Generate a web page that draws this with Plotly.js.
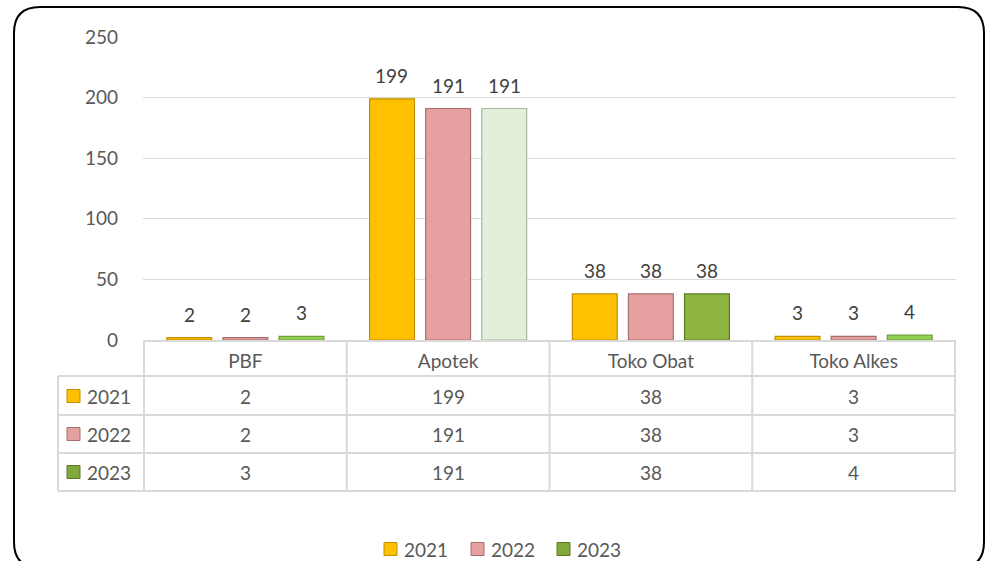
<!DOCTYPE html>
<html>
<head>
<meta charset="utf-8">
<script src="https://cdn.plot.ly/plotly-3.0.1.min.js"></script>
<style>
  html, body { margin: 0; padding: 0; background: #ffffff; }
  #chart { width: 986px; height: 561px; }
</style>
</head>
<body>
<div id="chart"></div>
<script>
// ---- data ----
const categories = ['PBF', 'Apotek', 'Toko Obat', 'Toko Alkes'];
const seriesNames = ['2021', '2022', '2023'];
const values2021 = [2, 199, 38, 3];
const values2022 = [2, 191, 38, 3];
const values2023 = [3, 191, 38, 4];
const yTickVals = [0, 50, 100, 150, 200, 250];

// ---- styles ----
const FONT = 'Lato, "Open Sans", sans-serif';
const TXT = '#595959';
const GRID = '#D9D9D9';
const fill2021 = '#FFC000', edge2021 = '#BF9000';
const fill2022 = '#E6A0A0', edge2022 = '#A86E6E';
const fill2023 = ['#92D050', '#E2EFDA', '#8DB53F', '#92D050'];
const edge2023 = ['#6E9E3A', '#A7B89C', '#5E7A28', '#6E9E3A'];
const keyFills = [fill2021, fill2022, '#80A83A'];
const keyEdges = [edge2021, edge2022, '#5E7A28'];

// plot-area pixel geometry (used only to convert pixel positions to paper units)
const L = 143, R = 956, T = 37, B = 340;
const W = 986, H = 561;
const px = x => (x - L) / (R - L);
const py = y => (B - y) / (B - T);
const BARGAP = 0.17, GROUPGAP = 0.2;

const allValues = [values2021, values2022, values2023];
const fills = [fill2021, fill2022, fill2023];
const edges = [edge2021, edge2022, edge2023];

const traces = seriesNames.map((name, i) => ({
  type: 'bar',
  name: name,
  x: categories,
  y: allValues[i],
  marker: { color: fills[i], line: { color: edges[i], width: 1.2 } },
  hoverinfo: 'x+y+name'
}));

const shapes = [];
const annotations = [];
const lineStyle = { color: GRID, width: 2 };

// data labels above bars (offset by the group slot width)
const slotPx = (R - L) / categories.length * (1 - BARGAP) / seriesNames.length;
seriesNames.forEach((name, i) => {
  allValues[i].forEach((v, j) => {
    annotations.push({ x: categories[j], xref: 'x', y: v, yref: 'y', text: String(v), showarrow: false,
      xanchor: 'center', yanchor: 'bottom', xshift: (i - 1) * slotPx, yshift: 10,
      font: { family: FONT, size: 19, color: '#404040' } });
  });
});

// table rows geometry (pixel)
const rowTops = [340, 376, 415, 453, 491];
const rowCenters = [358, 396, 434, 472];

// horizontal table lines
for (let k = 1; k < rowTops.length; k++) {
  shapes.push({ type: 'line', xref: 'paper', yref: 'paper', x0: px(58), x1: 1, y0: py(rowTops[k]), y1: py(rowTops[k]), line: lineStyle });
}
// vertical lines at category boundaries
for (let j = 0; j <= categories.length; j++) {
  shapes.push({ type: 'line', xref: 'x', yref: 'paper', x0: j - 0.5, x1: j - 0.5, y0: py(340), y1: py(491), line: lineStyle });
}
// left border of the key column
shapes.push({ type: 'line', xref: 'paper', yref: 'paper', x0: px(58), x1: px(58), y0: py(376), y1: py(491), line: lineStyle });

// table values and row headers
seriesNames.forEach((name, i) => {
  const yc = py(rowCenters[i + 1]);
  allValues[i].forEach((v, j) => {
    annotations.push({ x: categories[j], xref: 'x', y: yc, yref: 'paper', text: String(v), showarrow: false,
      xanchor: 'center', yanchor: 'middle', font: { family: FONT, size: 19, color: TXT } });
  });
  shapes.push({ type: 'rect', xref: 'paper', yref: 'paper', x0: px(67), x1: px(80), y0: py(rowCenters[i + 1] - 6.5), y1: py(rowCenters[i + 1] + 6.5),
    fillcolor: keyFills[i], line: { color: keyEdges[i], width: 1 } });
  annotations.push({ x: px(85), xref: 'paper', y: yc, yref: 'paper', text: name, showarrow: false,
    xanchor: 'left', yanchor: 'middle', font: { family: FONT, size: 19, color: TXT } });
});

// bottom legend
const legKeyX = [384, 471, 557];
const legY = 549;
seriesNames.forEach((name, i) => {
  shapes.push({ type: 'rect', xref: 'paper', yref: 'paper', x0: px(legKeyX[i]), x1: px(legKeyX[i] + 13), y0: py(legY - 6.5), y1: py(legY + 6.5),
    fillcolor: keyFills[i], line: { color: keyEdges[i], width: 1 } });
  annotations.push({ x: px(legKeyX[i] + 19), xref: 'paper', y: py(legY), yref: 'paper', text: name, showarrow: false,
    xanchor: 'left', yanchor: 'middle', borderpad: 0, font: { family: FONT, size: 19, color: TXT } });
});

// rounded outer frame
(function () {
  const x0 = 14, y0 = 7, x1 = 984, y1 = 568, r = 26;
  const P = (x, y) => px(x) + ',' + py(y);
  const path = 'M ' + P(x0 + r, y0) + ' L ' + P(x1 - r, y0) + ' Q ' + P(x1, y0) + ' ' + P(x1, y0 + r) +
    ' L ' + P(x1, y1 - r) + ' Q ' + P(x1, y1) + ' ' + P(x1 - r, y1) +
    ' L ' + P(x0 + r, y1) + ' Q ' + P(x0, y1) + ' ' + P(x0, y1 - r) +
    ' L ' + P(x0, y0 + r) + ' Q ' + P(x0, y0) + ' ' + P(x0 + r, y0) + ' Z';
  shapes.push({ type: 'path', xref: 'paper', yref: 'paper', path: path, line: { color: '#000000', width: 2 }, fillcolor: 'rgba(0,0,0,0)' });
})();

const layout = {
  width: W, height: H,
  margin: { l: L, r: W - R, t: T, b: H - B, pad: 0 },
  paper_bgcolor: '#ffffff', plot_bgcolor: '#ffffff',
  showlegend: false,
  barmode: 'group',
  bargap: BARGAP,
  bargroupgap: GROUPGAP,
  font: { family: FONT, size: 19, color: TXT },
  xaxis: {
    type: 'category', showgrid: false, zeroline: false,
    showline: true, linecolor: GRID, linewidth: 2,
    ticks: '', ticklabelstandoff: 3,
    tickfont: { family: FONT, size: 19, color: TXT },
    fixedrange: true
  },
  yaxis: {
    range: [0, 250], tickmode: 'array', tickvals: yTickVals,
    showgrid: true, gridcolor: GRID, gridwidth: 1,
    zeroline: false, showline: false, ticks: '',
    ticklabelstandoff: 24,
    tickfont: { family: FONT, size: 19, color: TXT },
    fixedrange: true
  },
  shapes: shapes,
  annotations: annotations
};

Plotly.newPlot('chart', traces, layout, { displayModeBar: false, staticPlot: true });
</script>
</body>
</html>
